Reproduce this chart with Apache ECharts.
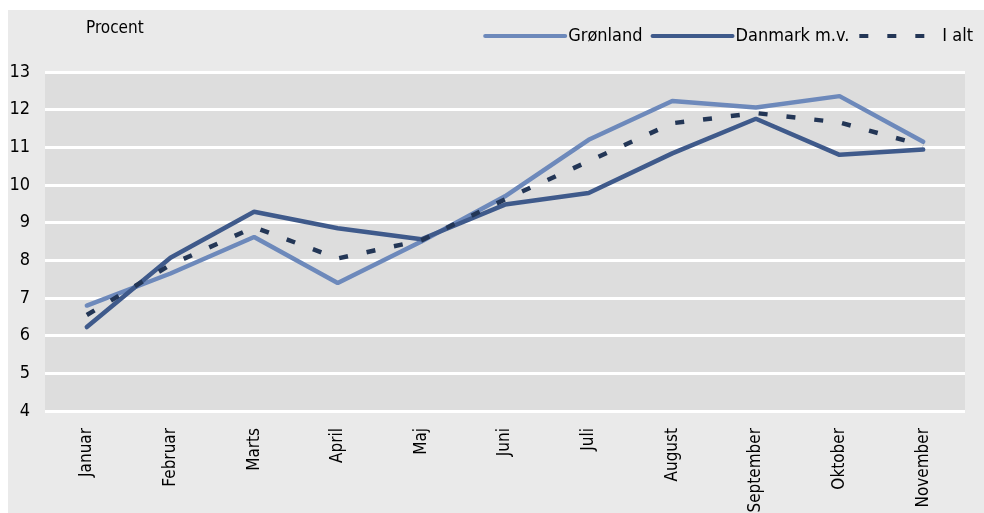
<!DOCTYPE html>
<html>
<head>
<meta charset="utf-8">
<script src="https://cdn.jsdelivr.net/npm/echarts@6/dist/echarts.min.js"></script>
<style>
  html, body { margin: 0; padding: 0; background: #ffffff; }
  #chart { width: 984px; height: 513px; }
</style>
</head>
<body>
<div id="chart"></div>
<script>
// månedskategorier
const months = ['Januar', 'Februar', 'Marts', 'April', 'Maj', 'Juni', 'Juli', 'August', 'September', 'Oktober', 'November']
// værdier i procent
const groenland = [6.8, 7.65, 8.62, 7.4, 8.5, 9.7, 11.2, 12.23, 12.06, 12.36, 11.15]
const danmark = [6.23, 8.07, 9.29, 8.85, 8.56, 9.48, 9.79, 10.84, 11.76, 10.8, 10.94]
const iAlt = [6.55, 7.88, 8.88, 8.05, 8.53, 9.62, 10.63, 11.64, 11.91, 11.66, 11.05]
const yTicks = { min: 4, max: 13, interval: 1 }

const font = '"Liberation Sans Narrow", "DejaVu Sans Condensed", sans-serif'

let chart = echarts.init(document.getElementById('chart'))
let option = {
  backgroundColor: 'transparent',
  textStyle: { fontFamily: font },
  graphic: [
    {
      type: 'rect',
      z: -10,
      shape: { x: 8, y: 10, width: 976, height: 503 },
      style: { fill: '#eaeaea' }
    },
    {
      type: 'text',
      left: 86,
      top: 20,
      style: { text: 'Procent', fill: '#000', font: '17px ' + font }
    }
  ],
  legend: {
    right: 6,
    top: 22,
    itemWidth: 80,
    itemHeight: 12,
    itemGap: 8,
    itemStyle: { opacity: 0 },
    lineStyle: { width: 4 },
    textStyle: { fontSize: 18, color: '#000', fontFamily: font, padding: [0, 0, 0, -2] },
    data: ['Grønland', 'Danmark m.v.', 'I alt']
  },
  grid: {
    left: 45,
    right: 19,
    top: 72,
    bottom: 102,
    outerBoundsMode: 'none',
    show: true,
    backgroundColor: '#dddddd',
    borderWidth: 0
  },
  xAxis: {
    type: 'category',
    data: months,
    boundaryGap: true,
    axisLine: { show: false },
    axisTick: { show: false },
    axisLabel: {
      rotate: 90,
      interval: 0,
      margin: 17,
      fontSize: 17,
      color: '#000',
      fontFamily: font
    }
  },
  yAxis: {
    type: 'value',
    min: yTicks.min,
    max: yTicks.max,
    interval: yTicks.interval,
    axisLine: { show: false },
    axisTick: { show: false },
    axisLabel: { margin: 15, fontSize: 18, color: '#000', fontFamily: font },
    splitLine: { lineStyle: { color: '#ffffff', width: 3 } }
  },
  series: [
    {
      name: 'Grønland',
      type: 'line',
      data: groenland,
      symbol: 'none',
      lineStyle: { color: '#6d89bb', width: 4.5, cap: 'round' },
      itemStyle: { color: '#6d89bb' }
    },
    {
      name: 'Danmark m.v.',
      type: 'line',
      data: danmark,
      symbol: 'none',
      lineStyle: { color: '#3f5a8b', width: 4.5, cap: 'round' },
      itemStyle: { color: '#3f5a8b' }
    },
    {
      name: 'I alt',
      type: 'line',
      data: iAlt,
      symbol: 'none',
      lineStyle: { color: '#233656', width: 4.5, type: [9, 19] },
      itemStyle: { color: '#233656' }
    }
  ]
}
chart.setOption(option)
</script>
</body>
</html>
